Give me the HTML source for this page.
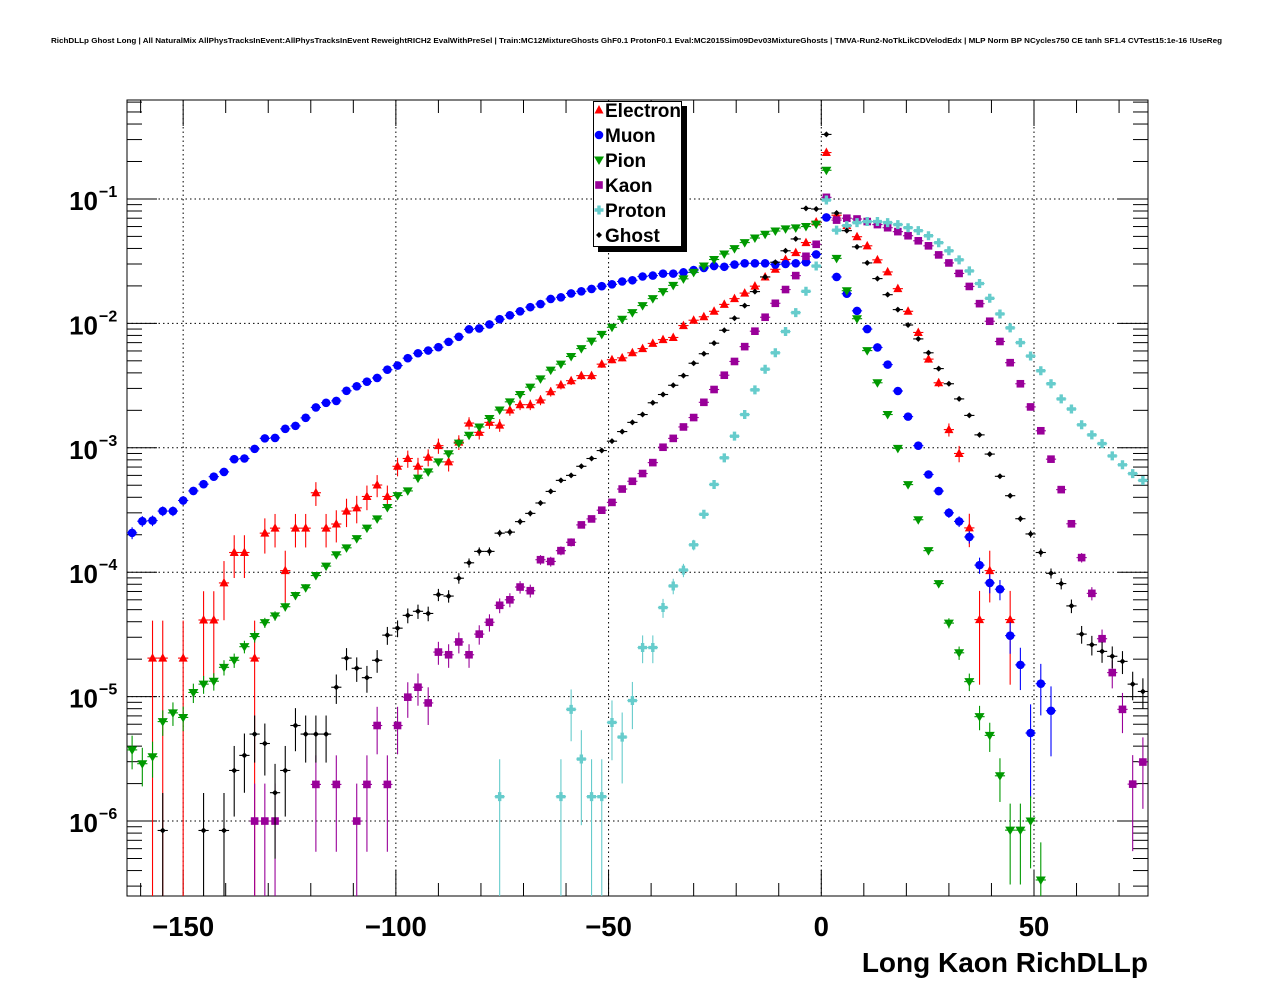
<!DOCTYPE html>
<html><head><meta charset="utf-8"><style>
html,body{margin:0;padding:0;background:#fff;}
svg{display:block;font-family:"Liberation Sans",Arial,sans-serif;}
</style></head><body>
<svg id="chart" width="1276" height="996" viewBox="0 0 1276 996" xmlns="http://www.w3.org/2000/svg">
<rect x="0" y="0" width="1276" height="996" fill="#fff"/>
<text x="51" y="43" font-size="7.6" font-weight="bold" textLength="1171" lengthAdjust="spacingAndGlyphs">RichDLLp Ghost Long | All NaturalMix AllPhysTracksInEvent:AllPhysTracksInEvent ReweightRICH2 EvalWithPreSel | Train:MC12MixtureGhosts GhF0.1 ProtonF0.1 Eval:MC2015Sim09Dev03MixtureGhosts | TMVA-Run2-NoTkLikCDVelodEdx | MLP Norm BP NCycles750 CE tanh SF1.4 CVTest15:1e-16 !UseReg</text>
<g id="grid"></g>
<g id="axes"></g>
<g id="series"></g>
<g id="legend"></g>
</svg>
<script>
// ---- data ----
const binStart = -162;
const binWidth = 2.4;
const nBins = 100;
const xTicks = [-150, -100, -50, 0, 50];
const xTickLabels = ["\u2212150", "\u2212100", "\u221250", "0", "50"];
const yDecades = [-1, -2, -3, -4, -5, -6];
const seriesNames = ["Electron", "Muon", "Pion", "Kaon", "Proton", "Ghost"];

const electron = [null,null,2.04e-5,2.04e-5,null,2.04e-5,null,4.13e-5,4.13e-5,8.2e-5,1.44e-4,1.44e-4,2.04e-5,2.06e-4,2.26e-4,1.03e-4,2.26e-4,2.26e-4,4.35e-4,2.26e-4,2.44e-4,3.1e-4,3.29e-4,4.06e-4,5.02e-4,4.06e-4,7.1e-4,8.2e-4,7.1e-4,8.4e-4,1.04e-3,7.7e-4,1.11e-3,1.58e-3,1.33e-3,1.6e-3,1.52e-3,2.01e-3,2.22e-3,2.22e-3,2.42e-3,2.82e-3,3.2e-3,3.46e-3,3.8e-3,3.8e-3,4.7e-3,5.1e-3,5.28e-3,5.8e-3,6.27e-3,6.9e-3,7.4e-3,7.7e-3,9.6e-3,1.06e-2,1.13e-2,1.25e-2,1.42e-2,1.58e-2,1.75e-2,1.99e-2,2.36e-2,2.72e-2,3.26e-2,3.7e-2,4.46e-2,6.53e-2,0.236,7.4e-2,6.1e-2,4.97e-2,4.2e-2,3.24e-2,2.59e-2,1.9e-2,1.25e-2,8.45e-3,5.16e-3,3.33e-3,1.4e-3,9.0e-4,2.27e-4,4.16e-5,1.03e-4,null,4.16e-5,null,null,null,null,null,null,null,null,null,null,null,null,null];
const muon = [2.07e-4,2.57e-4,2.6e-4,3.1e-4,3.1e-4,3.77e-4,4.5e-4,5.1e-4,5.86e-4,6.4e-4,8.1e-4,8.2e-4,9.8e-4,1.19e-3,1.2e-3,1.42e-3,1.5e-3,1.74e-3,2.11e-3,2.3e-3,2.38e-3,2.87e-3,3.12e-3,3.4e-3,3.64e-3,4.24e-3,4.58e-3,5.25e-3,5.75e-3,6.05e-3,6.43e-3,7.1e-3,7.8e-3,8.95e-3,9.1e-3,9.8e-3,1.08e-2,1.16e-2,1.25e-2,1.35e-2,1.43e-2,1.57e-2,1.62e-2,1.74e-2,1.81e-2,1.89e-2,1.99e-2,2.06e-2,2.17e-2,2.22e-2,2.38e-2,2.42e-2,2.51e-2,2.51e-2,2.57e-2,2.68e-2,2.79e-2,2.89e-2,2.85e-2,2.97e-2,3.04e-2,3.04e-2,3.04e-2,2.97e-2,3.0e-2,3.04e-2,3.1e-2,3.58e-2,7.1e-2,2.36e-2,1.73e-2,1.26e-2,9.0e-3,6.4e-3,4.66e-3,2.86e-3,1.78e-3,1.04e-3,6.1e-4,4.49e-4,3.0e-4,2.56e-4,1.92e-4,1.14e-4,8.2e-5,7.3e-5,3.09e-5,1.8e-5,5.1e-6,1.27e-5,7.7e-6,null,null,null,null,null,null,null,null,null];
const pion = [3.73e-6,2.89e-6,3.29e-6,6.3e-6,7.4e-6,6.8e-6,1.08e-5,1.26e-5,1.33e-5,1.72e-5,1.96e-5,2.52e-5,3.04e-5,3.93e-5,4.46e-5,5.28e-5,6.5e-5,7.5e-5,9.4e-5,1.12e-4,1.38e-4,1.57e-4,1.86e-4,2.26e-4,2.68e-4,3.31e-4,4.13e-4,4.5e-4,5.7e-4,6.4e-4,7.7e-4,8.95e-4,1.09e-3,1.26e-3,1.47e-3,1.72e-3,2.01e-3,2.34e-3,2.68e-3,3.07e-3,3.58e-3,4.21e-3,4.7e-3,5.42e-3,6.27e-3,7.2e-3,8.15e-3,9.3e-3,1.08e-2,1.22e-2,1.39e-2,1.58e-2,1.8e-2,2.02e-2,2.28e-2,2.57e-2,2.89e-2,3.26e-2,3.61e-2,3.99e-2,4.46e-2,4.85e-2,5.2e-2,5.52e-2,5.75e-2,5.85e-2,6.0e-2,6.27e-2,0.17,3.33e-2,1.83e-2,1.09e-2,6.04e-3,3.33e-3,1.85e-3,9.9e-4,5.06e-4,2.64e-4,1.49e-4,8.1e-5,3.9e-5,2.25e-5,1.32e-5,6.9e-6,4.88e-6,2.31e-6,8.45e-7,8.45e-7,1.0e-6,3.36e-7,null,null,null,null,null,null,null,null,null,null];
const kaon = [null,null,null,null,null,null,null,null,null,null,null,null,1.0e-6,1.0e-6,1.0e-6,null,null,null,1.97e-6,null,1.97e-6,null,1.0e-6,1.97e-6,5.86e-6,1.97e-6,5.86e-6,9.9e-6,1.19e-5,8.9e-6,2.28e-5,2.17e-5,2.75e-5,2.17e-5,3.18e-5,3.96e-5,5.42e-5,6.0e-5,7.6e-5,7.1e-5,1.26e-4,1.22e-4,1.49e-4,1.74e-4,2.4e-4,2.68e-4,3.15e-4,3.64e-4,4.66e-4,5.38e-4,6.21e-4,7.6e-4,1.01e-3,1.19e-3,1.47e-3,1.75e-3,2.32e-3,2.94e-3,3.83e-3,4.94e-3,6.5e-3,8.65e-3,1.12e-2,1.45e-2,1.87e-2,2.42e-2,3.46e-2,4.32e-2,0.103,6.76e-2,7.0e-2,6.9e-2,6.58e-2,6.22e-2,5.87e-2,5.46e-2,5.06e-2,4.61e-2,4.2e-2,3.55e-2,3.06e-2,2.52e-2,1.98e-2,1.44e-2,1.04e-2,7.15e-3,4.83e-3,3.27e-3,2.13e-3,1.37e-3,8.1e-4,4.61e-4,2.45e-4,1.31e-4,6.76e-5,2.92e-5,1.56e-5,7.9e-6,1.98e-6,2.98e-6];
const proton = [null,null,null,null,null,null,null,null,null,null,null,null,null,null,null,null,null,null,null,null,null,null,null,null,null,null,null,null,null,null,null,null,null,null,null,null,1.57e-6,null,null,null,null,null,1.57e-6,7.9e-6,3.15e-6,1.57e-6,1.57e-6,6.2e-6,4.73e-6,9.3e-6,2.48e-5,2.48e-5,5.2e-5,7.75e-5,1.04e-4,1.66e-4,2.92e-4,5.07e-4,8.3e-4,1.24e-3,1.85e-3,2.92e-3,4.28e-3,5.8e-3,8.6e-3,1.22e-2,1.81e-2,2.89e-2,0.098,5.61e-2,6.1e-2,6.45e-2,6.58e-2,6.58e-2,6.45e-2,6.22e-2,5.87e-2,5.56e-2,5.06e-2,4.45e-2,3.83e-2,3.24e-2,2.64e-2,2.09e-2,1.59e-2,1.19e-2,9.2e-3,7.0e-3,5.46e-3,4.16e-3,3.27e-3,2.47e-3,2.05e-3,1.53e-3,1.27e-3,1.08e-3,8.6e-4,7.3e-4,6.2e-4,5.46e-4];
const ghost = [null,null,null,8.4e-7,null,null,null,8.4e-7,null,8.4e-7,2.55e-6,3.37e-6,5.0e-6,4.2e-6,1.69e-6,2.55e-6,5.86e-6,5.0e-6,5.0e-6,5.0e-6,1.19e-5,2.04e-5,1.69e-5,1.42e-5,1.96e-5,3.12e-5,3.55e-5,4.5e-5,4.85e-5,4.66e-5,6.6e-5,6.43e-5,8.95e-5,1.19e-4,1.47e-4,1.47e-4,2.06e-4,2.1e-4,2.55e-4,2.97e-4,3.6e-4,4.46e-4,5.47e-4,6.0e-4,7.1e-4,8.2e-4,9.5e-4,1.13e-3,1.35e-3,1.6e-3,1.85e-3,2.3e-3,2.68e-3,3.18e-3,3.8e-3,4.78e-3,5.7e-3,6.93e-3,8.8e-3,1.1e-2,1.39e-2,1.8e-2,2.36e-2,3.1e-2,3.83e-2,4.77e-2,8.4e-2,8.3e-2,0.33,7.7e-2,5.56e-2,4.12e-2,3.06e-2,2.29e-2,1.7e-2,1.29e-2,9.7e-3,7.5e-3,5.8e-3,4.33e-3,3.27e-3,2.47e-3,1.82e-3,1.27e-3,8.9e-4,5.9e-4,4.12e-4,2.69e-4,2.03e-4,1.44e-4,9.8e-5,8.1e-5,5.36e-5,3.18e-5,2.61e-5,2.31e-5,2.11e-5,1.92e-5,1.26e-5,1.1e-5];

// ---- layout ----
const PL = 127, PR = 1148, PT = 100, PB = 896;
const X0 = -163.2, X1 = 76.8;
const LOGTOP = -1 + 99/124.5, LOGBOT = -6 - 75/124.5;
const SVGNS = "http://www.w3.org/2000/svg";
function xs(v){ return PL + (v - X0) / (X1 - X0) * (PR - PL); }
function ys(v){ return PT + (LOGTOP - Math.log10(v)) / (LOGTOP - LOGBOT) * (PB - PT); }
function mk(tag, attrs, parent){ const e = document.createElementNS(SVGNS, tag); for (const k in attrs) e.setAttribute(k, attrs[k]); parent.appendChild(e); return e; }

const grid = document.getElementById('grid');
const axes = document.getElementById('axes');
const layer = document.getElementById('series');
const legend = document.getElementById('legend');

xTicks.forEach(t => {
  const l = mk('line', {x1: xs(t), x2: xs(t), y1: PT, y2: PB, stroke: '#000', 'stroke-width': 1, 'stroke-dasharray': '1.5,3'}, grid);
  
  
});
yDecades.forEach(d => {
  const y = ys(Math.pow(10, d));
  const l = mk('line', {x1: PL, x2: PR, y1: y, y2: y, stroke: '#000', 'stroke-width': 1, 'stroke-dasharray': '1.5,3'}, grid);
  
  
});

const frame = mk('rect', {x: PL, y: PT, width: PR - PL, height: PB - PT, fill: 'none', stroke: '#000', 'stroke-width': 1}, axes);



for (let v = -160; v <= 70; v += 10) {
  const major = (v % 50 === 0);
  const len = major ? 26 : 13;
  const x = xs(v);
  const t1 = mk('line', {x1: x, x2: x, y1: PB, y2: PB - len, stroke: '#000'}, axes);
  
  
  const t2 = mk('line', {x1: x, x2: x, y1: PT, y2: PT + len, stroke: '#000'}, axes);
  
  
}
xTicks.forEach((t, i) => {
  const tx = mk('text', {x: xs(t), y: 936, 'font-size': 27.5, 'font-weight': 'bold', 'text-anchor': 'middle'}, axes);
  tx.textContent = xTickLabels[i];
  
  
});
const xt = mk('text', {x: PR, y: 972, 'font-size': 28, 'font-weight': 'bold', 'text-anchor': 'end'}, axes);
xt.textContent = 'Long Kaon RichDLLp';



for (let d = -7; d <= 0; d++) {
  for (let m = 1; m <= 9; m++) {
    const v = m * Math.pow(10, d);
    const y = ys(v);
    if (y < PT || y > PB) continue;
    const len = (m === 1) ? 30 : 15;
    const a = mk('line', {x1: PL, x2: PL + len, y1: y, y2: y, stroke: '#000'}, axes);
    
    
    const b = mk('line', {x1: PR, x2: PR - len, y1: y, y2: y, stroke: '#000'}, axes);
    
    
  }
}
yDecades.forEach(d => {
  const y = ys(Math.pow(10, d));
  const tx = mk('text', {x: 98, y: y + 11, 'font-size': 26, 'font-weight': 'bold', 'text-anchor': 'end'}, axes);
  tx.textContent = '10';
  
  
  const sp = mk('text', {x: 99, y: y - 2, 'font-size': 16, 'font-weight': 'bold', 'text-anchor': 'start'}, axes);
  sp.textContent = '\u2212' + (-d);
  
  
});

function drawMarker(kind, color, cx, cy, parent){
  let e;
  if (kind === 'tri-up') e = mk('polygon', {points: `${cx},${cy-5} ${cx-4.5},${cy+3.5} ${cx+4.5},${cy+3.5}`, fill: color}, parent);
  else if (kind === 'circle') e = mk('circle', {cx: cx, cy: cy, r: 4.3, fill: color}, parent);
  else if (kind === 'tri-down') e = mk('polygon', {points: `${cx},${cy+5} ${cx-5},${cy-3.5} ${cx+5},${cy-3.5}`, fill: color}, parent);
  else if (kind === 'square') e = mk('rect', {x: cx-3.8, y: cy-3.8, width: 7.6, height: 7.6, fill: color}, parent);
  else if (kind === 'cross') e = mk('polygon', {points: `${cx-1.7},${cy-4.5} ${cx+1.7},${cy-4.5} ${cx+1.7},${cy-1.7} ${cx+4.5},${cy-1.7} ${cx+4.5},${cy+1.7} ${cx+1.7},${cy+1.7} ${cx+1.7},${cy+4.5} ${cx-1.7},${cy+4.5} ${cx-1.7},${cy+1.7} ${cx-4.5},${cy+1.7} ${cx-4.5},${cy-1.7} ${cx-1.7},${cy-1.7}`, fill: color}, parent);
  else e = mk('polygon', {points: `${cx},${cy-3} ${cx+3},${cy} ${cx},${cy+3} ${cx-3},${cy}`, fill: color}, parent);
  return e;
}

const seriesData = [electron, muon, pion, kaon, proton, ghost];
const colors = ['#ff0000', '#0000ff', '#009900', '#990099', '#66cccc', '#000000'];
const kinds = ['tri-up', 'circle', 'tri-down', 'square', 'cross', 'diamond'];
const unitW = [2.04e-5, 2.5e-6, 3.4e-7, 1.0e-6, 1.57e-6, 8.4e-7];

seriesData.forEach((arr, si) => {
  const g = mk('g', {}, layer);
  
  
  const marks = [];
  arr.forEach((v, k) => {
    if (v === null || v === undefined) return;
    const c = binStart + binWidth * k;
    const cx = xs(c), cy = ys(v);
    const err = Math.sqrt(v * unitW[si]);
    const yHi = Math.max(PT, ys(v + err));
    const yLo = (v - err) > Math.pow(10, LOGBOT) ? ys(v - err) : PB;
    const eb = mk('line', {x1: cx, x2: cx, y1: yHi, y2: Math.min(PB, yLo), stroke: colors[si], 'stroke-width': 1.1}, g);
    
    
    const hb = mk('line', {x1: xs(c - binWidth/2), x2: xs(c + binWidth/2), y1: cy, y2: cy, stroke: colors[si], 'stroke-width': 1.1}, g);
    
    
    marks.push([cx, cy]);
  });
  marks.forEach(p => {
    const m = drawMarker(kinds[si], colors[si], p[0], p[1], g);
    
    
  });
});

const sh = mk('rect', {x: 598, y: 106, width: 89, height: 146, fill: '#000'}, legend);


const lb = mk('rect', {x: 593.5, y: 101.5, width: 88, height: 145, fill: '#fff', stroke: '#000', 'stroke-width': 1}, legend);


seriesNames.forEach((n, i) => {
  const y = 110 + 25 * i;
  const g = mk('g', {}, legend);
  
  
  const m = drawMarker(kinds[i], colors[i], 599, y, g);
  
  
  const t = mk('text', {x: 605, y: y + 7, 'font-size': 19, 'font-weight': 'bold'}, g);
  t.textContent = n;
  
  
});
</script>
</body></html>
